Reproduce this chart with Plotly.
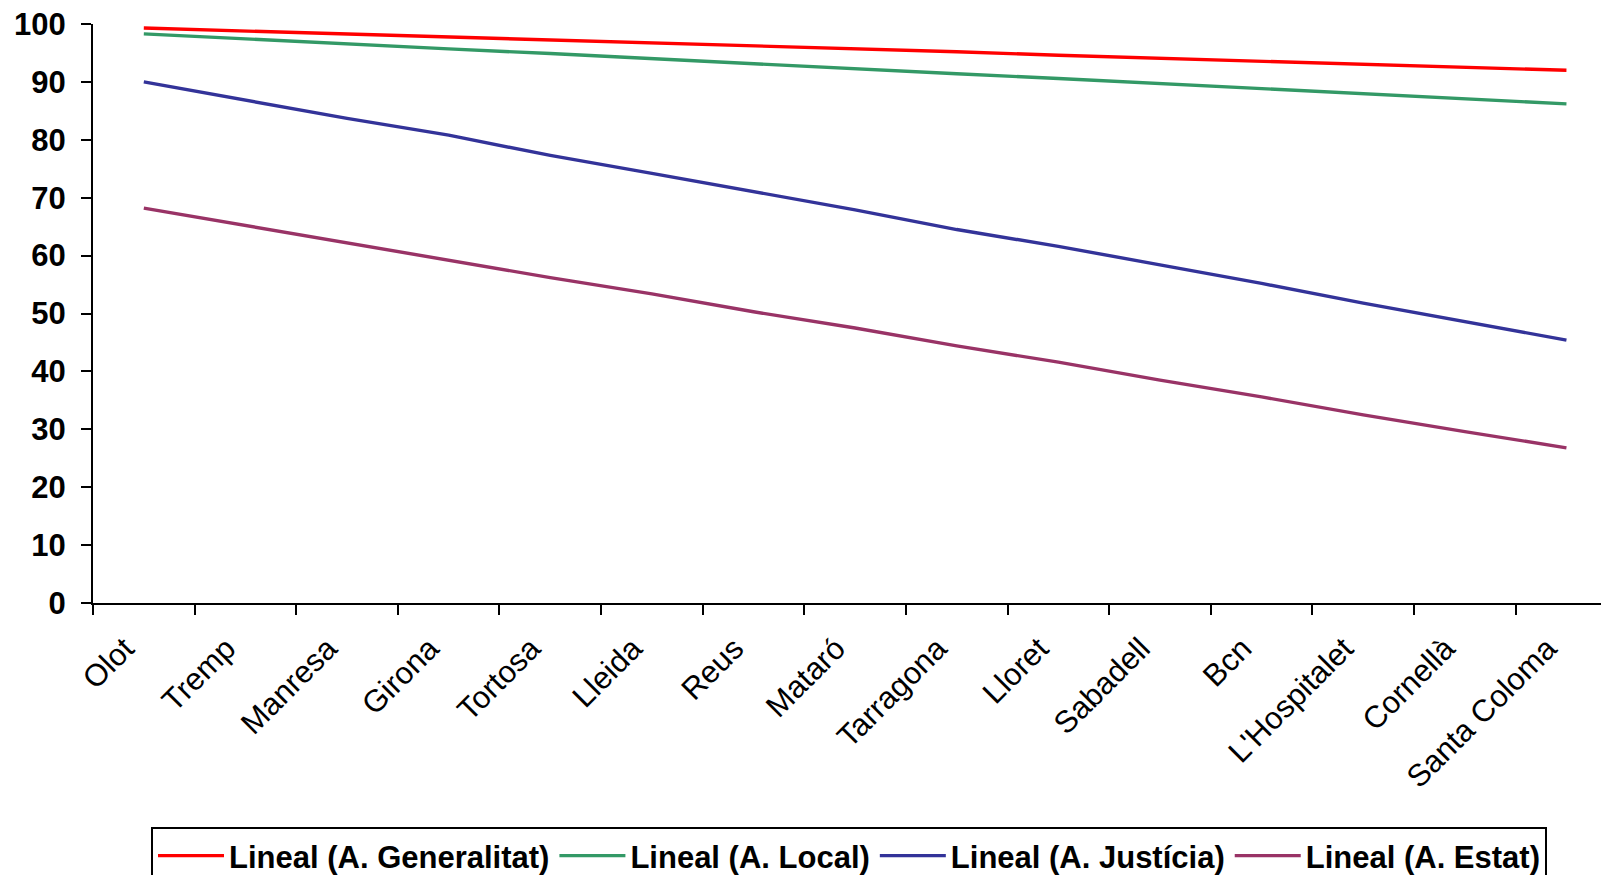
import plotly.graph_objects as go

categories = ["Olot", "Tremp", "Manresa", "Girona", "Tortosa", "Lleida", "Reus", "Mataró",
              "Tarragona", "Lloret", "Sabadell", "Bcn", "L'Hospitalet", "Cornellà", "Santa Coloma"]

generalitat = [99.3, 98.8, 98.3, 97.7, 97.2, 96.7, 96.2, 95.7, 95.2, 94.6, 94.1, 93.6, 93.1, 92.6, 92.0]
local = [98.3, 97.4, 96.6, 95.7, 94.9, 94.0, 93.2, 92.3, 91.4, 90.6, 89.7, 88.9, 88.0, 87.1, 86.2]
justicia = [90.0, 86.8, 83.7, 80.8, 77.3, 74.2, 71.0, 67.9, 64.5, 61.6, 58.4, 55.2, 51.8, 48.6, 45.4]
estat = [68.2, 65.2, 62.3, 59.3, 56.2, 53.4, 50.3, 47.5, 44.4, 41.6, 38.5, 35.6, 32.5, 29.6, 26.8]

series_names = ["Lineal (A. Generalitat)", "Lineal (A. Local)", "Lineal (A. Justícia)", "Lineal (A. Estat)"]
series_values = [generalitat, local, justicia, estat]
series_colors = ["#FF0000", "#339966", "#333399", "#993366"]

FONT = "Liberation Sans, Arial, sans-serif"

fig = go.Figure()
for name, vals, col in zip(series_names, series_values, series_colors):
    fig.add_trace(go.Scatter(x=categories, y=vals, mode="lines", name=name,
                             line=dict(color=col, width=3.4)))

fig.update_layout(
    width=1601, height=875,
    paper_bgcolor="white", plot_bgcolor="white",
    margin=dict(l=93, r=0, t=24, b=272),
    font=dict(family=FONT, color="black"),
    showlegend=True,
    legend=dict(
        orientation="h",
        xref="container", yref="container",
        x=151 / 1601, y=1 - 827 / 875,
        xanchor="left", yanchor="top",
        bordercolor="black", borderwidth=2,
        font=dict(family=FONT, size=31, color="black", weight="bold"),
        itemwidth=66,
        traceorder="normal",
    ),
)

fig.update_xaxes(
    type="category",
    range=[-0.5, 14.34],
    showline=True, linecolor="black", linewidth=2,
    ticks="outside", ticklen=10, tickwidth=2, tickcolor="black",
    tickson="boundaries",
    tickangle=-45,
    ticklabelstandoff=13, ticklabelshift=-19,
    tickfont=dict(family=FONT, size=31, color="black"),
    showgrid=False, zeroline=False,
)
fig.update_yaxes(
    range=[0, 100], dtick=10, tick0=0,
    showline=True, linecolor="black", linewidth=2,
    ticks="outside", ticklen=10, tickwidth=2, tickcolor="black",
    ticklabelstandoff=9,
    tickfont=dict(family=FONT, size=31, color="black", weight="bold"),
    showgrid=False, zeroline=False,
)

fig.write_html(
    "out.html",
    config={"displayModeBar": False},
    post_script="document.body.style.margin='0';document.documentElement.style.overflow='hidden';document.body.style.overflow='hidden';",
)
